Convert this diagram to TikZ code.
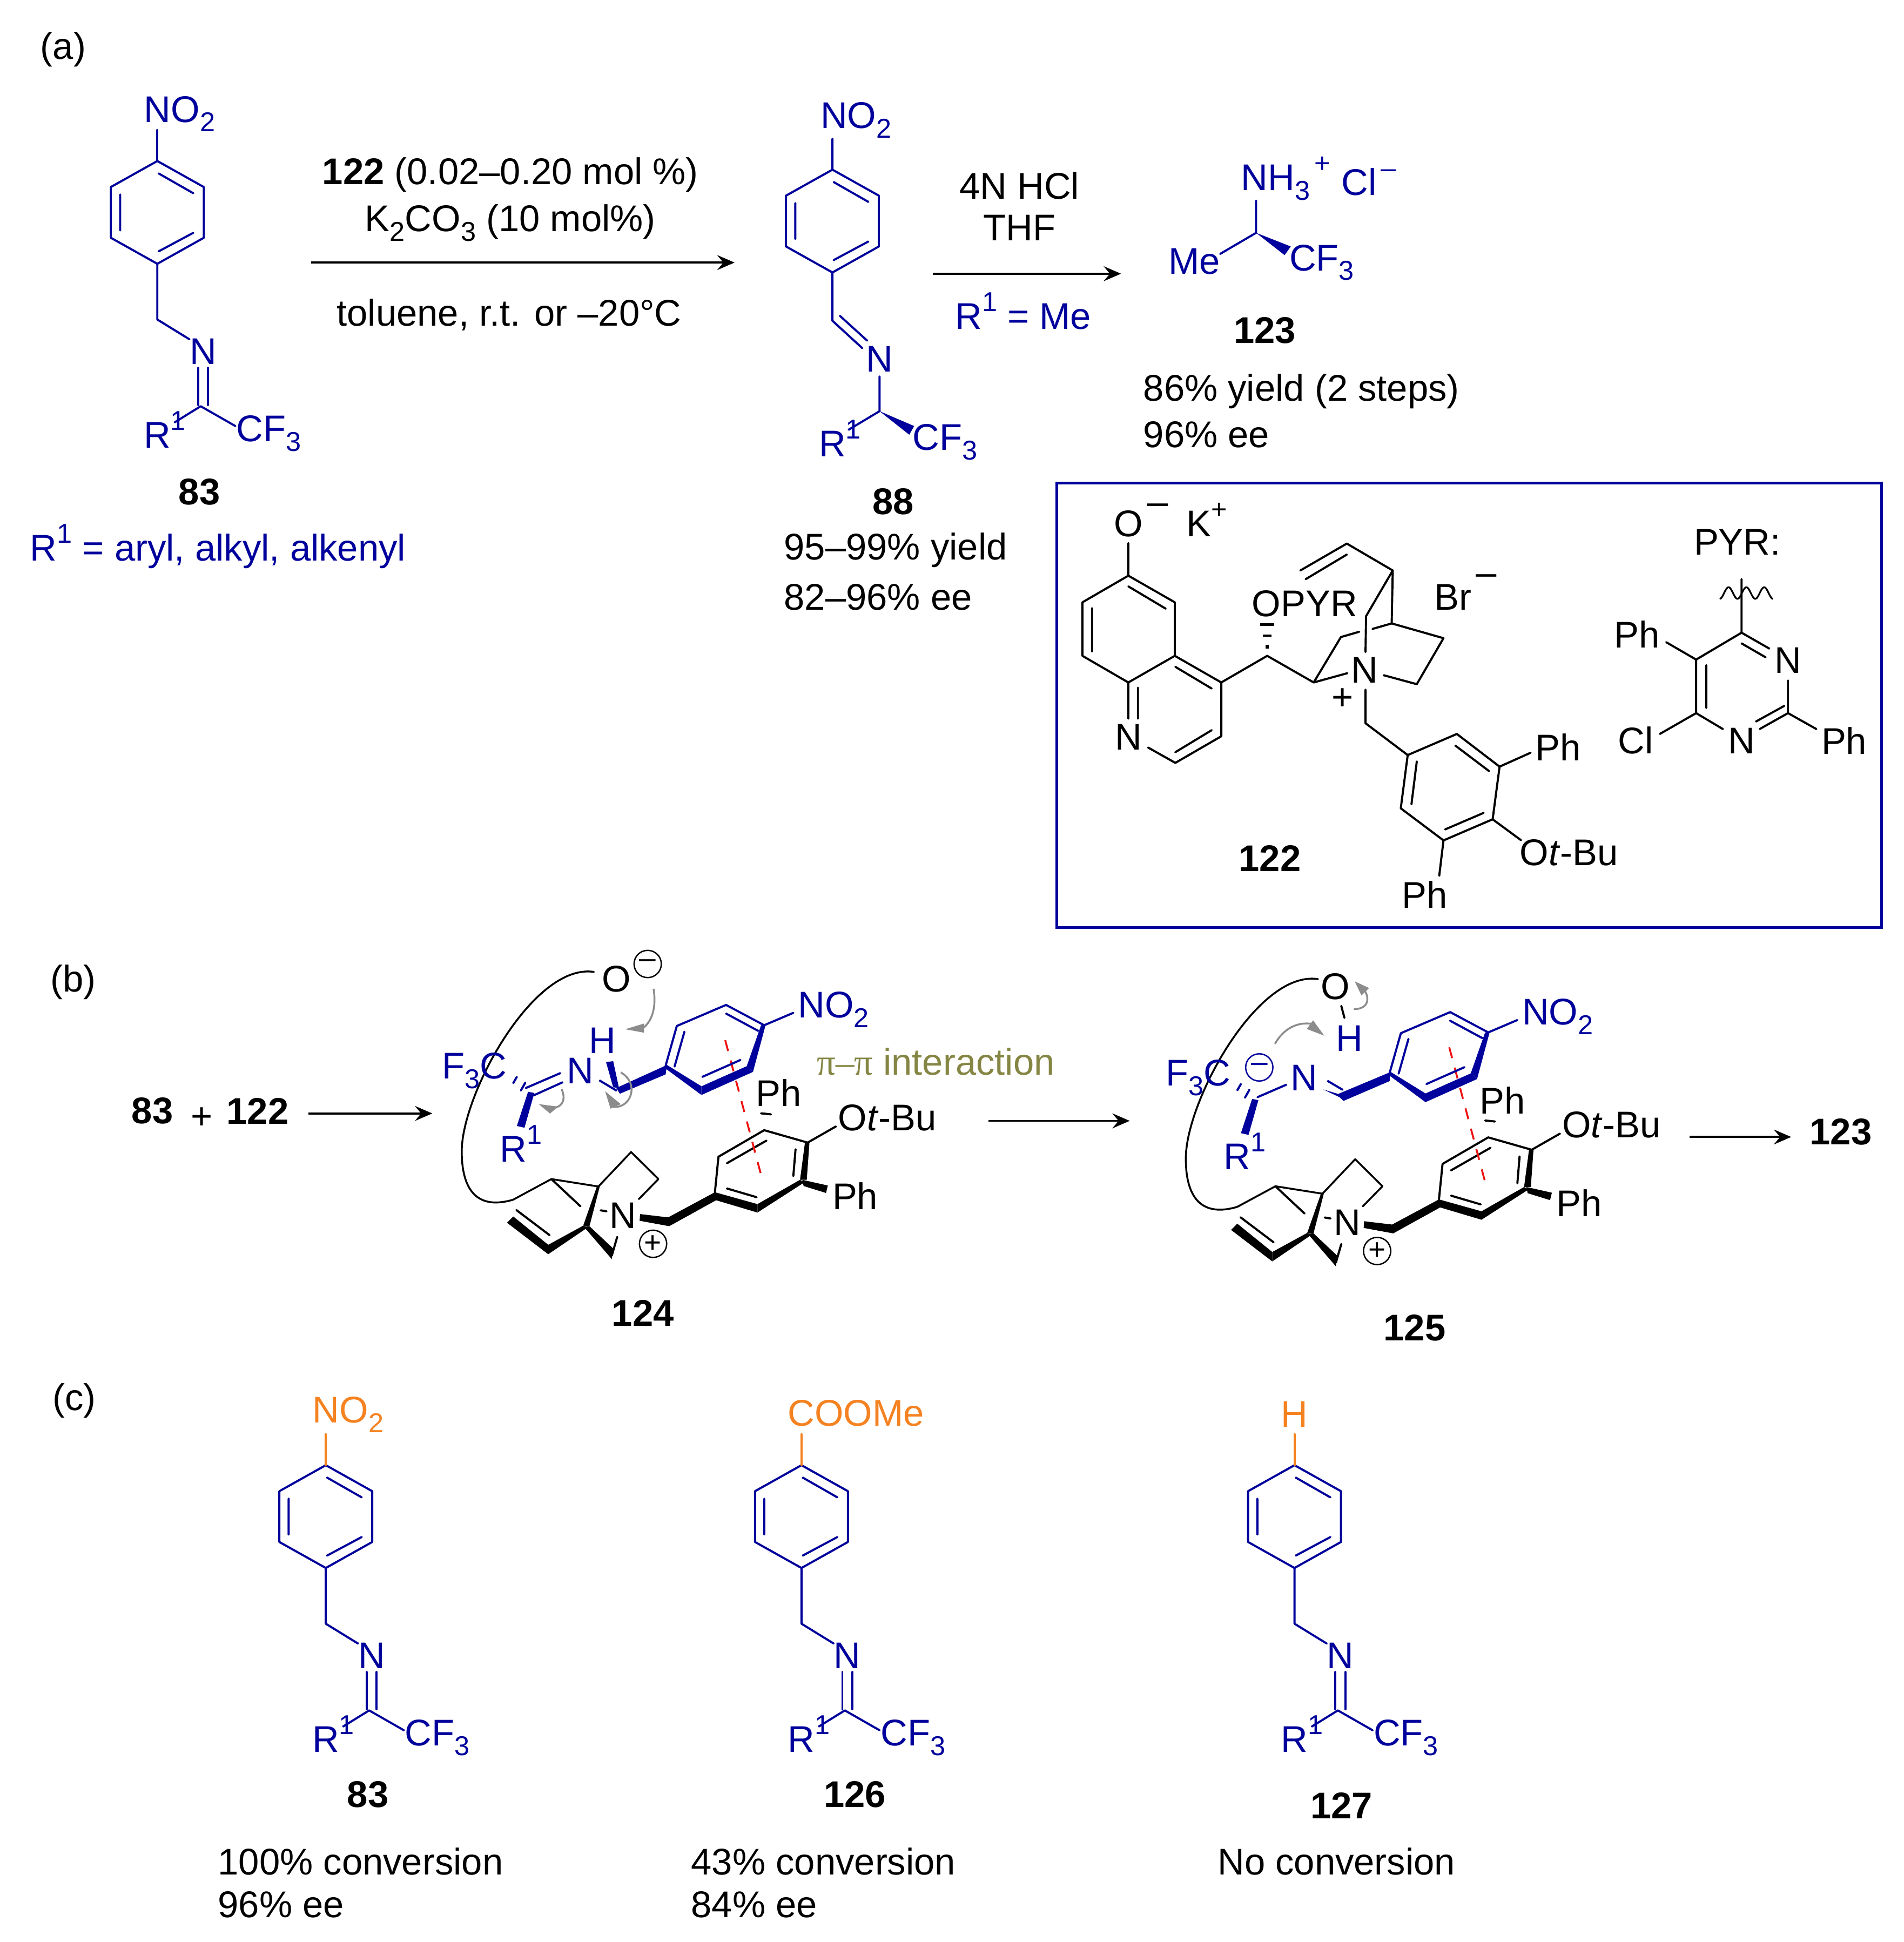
\documentclass[tikz,border=0pt]{standalone}
\usepackage{fontspec}
\setmainfont{Liberation Sans}
\newfontfamily\piFont{Liberation Serif}
\usetikzlibrary{arrows.meta,calc}
\definecolor{cblue}{HTML}{00009C}
\definecolor{corange}{HTML}{F58220}
\definecolor{colive}{HTML}{858544}
\definecolor{cgrey}{HTML}{8C8C8C}
\definecolor{cred}{HTML}{EE1111}
\newcommand\sbs[1]{\raisebox{-0.26em}{\fontsize{22}{24}\selectfont #1}}
\newcommand\sps[1]{\raisebox{0.48em}{\fontsize{22}{24}\selectfont #1}}
\tikzset{
  x=1pt,y=-1pt,
  every node/.style={font=\fontsize{30}{34}\selectfont,inner sep=0pt,outer sep=0pt},
  bond/.style={line width=1.7pt,line cap=round,line join=round},
  rxn/.style={line width=1.7pt,-{Stealth[length=14pt,width=12pt,inset=5pt]}},
  chg/.style={circle,draw,minimum size=22pt,line width=1.1pt,font=\fontsize{24}{24}\selectfont},
  tx/.style={anchor=west},
}
% blue benzyl imine; origin = top ring vertex
\newcommand\benzimine[5]{% x, y, subst colour, subst text, offset of subst
\begin{scope}[shift={(#1,#2)}]
 \draw[bond,cblue] (0,0)--(37.5,21)--(37.5,62)--(0,83)--(-37.5,62)--(-37.5,21)--cycle;
 \draw[bond,cblue] (1,10)--(29,26) (29,58)--(1,73) (-30,27)--(-30,56);
 \draw[bond,cblue] (0,83)--(0,128)--(26,144);
 \draw[bond,cblue] (33,167)--(33,197) (41,167)--(41,197);
 \draw[bond,cblue] (35,198)--(14,211) (35,198)--(63,214);
 \draw[bond,#3] (0,0)--(0,-25);
 \node[#3] (#4sub) at (#5) {\csname subst#4\endcsname};
 \node[cblue] (#4n) at (37,154) {N};
 \node[cblue] (#4r) at (6,217) {R\sps{1}};
 \node[cblue] (#4cf) at (90,220) {CF\sbs{3}};
\end{scope}}
\newcommand\substa{NO\sbs{2}}
\newcommand\substb{NO\sbs{2}}
\newcommand\substc{COOMe}
\newcommand\substd{H}
% common part of the transition-state drawing (coordinates of a stretched crop)
\newcommand\tsCore[1]{%
 \draw[bond,line width=1.5pt] (385,107) .. controls (250,70) and (90,600) .. (90,830) .. controls (90,1000) and (130,1065) .. (205,1025) -- (290,942) -- (395,972) -- (468,833) -- (529,942) -- (485,1023);
 \draw[bond] (290,942)--(355,1052) (400,1068)--(413,1072) (437,1175)--(425,1250) (212,1067)--(286,1168);
 \fill (392,970)--(398,972)--(375,1132)--(361,1130)--cycle;
 \fill (361,1130)--(372,1136)--(283,1245)--(283,1207)--cycle;
 \fill (283,1245)--(283,1207)--(205,1093)--(191,1118)--cycle;
 \fill (362,1133)--(375,1132)--(428,1222)--(425,1265)--cycle;
 \fill (488,1083)--(553,1097)--(553,1132)--(487,1110)--cycle;
 \fill (547,1100)--(655,995)--(660,1025)--(553,1132)--cycle;
 \draw[bond] (655,995)--(663,852)--(765,745)--(862,795)--(925,730);
 \draw[bond] (682,878)--(770,787) (835,822)--(830,930) (682,980)--(748,1015) (758,677)--(780,681);
 \fill (856,795)--(866,795)--(860,945)--(845,945)--cycle;
 \fill (845,945)--(855,955)--(750,1077)--(750,1043)--cycle;
 \fill (655,995)--(750,1043)--(750,1077)--(657,1027)--cycle;
 \fill (850,945)--(907,968)--(903,998)--(853,970)--cycle;
 \node (#1tbu) at (1040,695) {O\textit{t}-Bu};
 \node (#1pa) at (797,595) {Ph};
 \node (#1pb) at (968,1010) {Ph};
 \node (#1nq) at (450,1088) {N};
 \node[chg] (#1pl) at (517,1203) {+};
 \draw[cred,line width=1.5pt,dash pattern=on 9pt off 8pt] (678,382)--(757,918);
 \begin{scope}[cblue]
 \draw[bond] (545,485)--(570,325)--(680,240)--(765,322)--(830,272);
 \draw[bond] (565,488)--(587,348) (680,275)--(752,345) (627,530)--(712,462);
 \fill (758,322)--(768,322)--(740,510)--(726,487)--cycle;
 \fill (726,487)--(740,510)--(625,603)--(625,568)--cycle;
 \fill (540,490)--(548,482)--(625,568)--(625,603)--cycle;
 \fill (238,590)--(252,595)--(230,735)--(213,728)--cycle;
 \draw[bond] (205,555)--(213,530) (222,585)--(232,553);
 \node[cblue] (#1no) at (920,258) {NO\sbs{2}};
 \node[cblue] (#1f) at (118,505) {F\sbs{3}C};
 \node[cblue] (#1n) at (354,505) {N};
 \node[cblue] (#1r) at (222,800) {R\sps{1}};
 \end{scope}}
\begin{document}
\begin{tikzpicture}
\useasboundingbox (0,0) rectangle (1537,1568);
\fill[white] (0,0) rectangle (1537,1568);
% panel labels
\node (la) at (51,40) {(a)};
\node (lb) at (59,793) {(b)};
\node (lc) at (60,1131) {(c)};
% ---- panel a
\benzimine{127}{130}{cblue}{a}{18,-38}
\node (n83) at (161,397) {\textbf{83}};
\node[cblue] (rdef) at (176,441) {R\sps{1} = aryl, alkyl, alkenyl};
\coordinate (a1s) at (251,212); \coordinate (a1e) at (593,212);
\draw[rxn] (a1s)--(a1e);
\node (ra1) at (412,141) {\textbf{122} (0.02–0.20 mol \%)};
\node (ra2) at (412,180) {K\sbs{2}CO\sbs{3} (10 mol\%)};
\node (ra3) at (411,254) {toluene, r.t. or –20°C};
% 88
\begin{scope}[shift={(672,137)}]
 \draw[bond,cblue] (0,0)--(37.5,21)--(37.5,62)--(0,83)--(-37.5,62)--(-37.5,21)--cycle;
 \draw[bond,cblue] (1,10)--(29,26) (29,58)--(1,73) (-30,27)--(-30,56);
 \draw[bond,cblue] (0,0)--(0,-25) (0,83)--(0,122)--(24,144) (6,118)--(28,138);
 \draw[bond,cblue] (38,167)--(38,195)--(13,210);
 \fill[cblue] (38,195)--(66,207)--(62,214)--cycle;
 \node[cblue] (m88no) at (19,-40) {NO\sbs{2}};
 \node[cblue] (m88n) at (38,153) {N};
 \node[cblue] (m88r) at (6,217) {R\sps{1}};
 \node[cblue] (m88cf) at (91,220) {CF\sbs{3}};
\end{scope}
\node (n88) at (721,405) {\textbf{88}};
\node[tx] (y88a) at (633,444) {95–99\% yield};
\node[tx] (y88b) at (633,482) {82–96\% ee};
\coordinate (a2s) at (753,221); \coordinate (a2e) at (905,221);
\draw[rxn] (a2s)--(a2e);
\node (rb1) at (823,150) {4N HCl};
\node (rb2) at (823,184) {THF};
\node[cblue] (rb3) at (826,251) {R\sps{1} = Me};
% 123
\draw[bond,cblue] (1014,162)--(1014,188)--(985,205);
\fill[cblue] (1014,188)--(1042,199)--(1037,206)--cycle;
\node[cblue] (nh3) at (1038,144) {NH\sbs{3}\sps{\,+}};
\node[cblue] (cl) at (1105,147) {Cl\sps{\,–}};
\node[cblue] (me) at (964,211) {Me};
\node[cblue] (cf123) at (1067,212) {CF\sbs{3}};
\node (n123) at (1021,267) {\textbf{123}};
\node[tx] (y123a) at (923,316) {86\% yield (2 steps)};
\node[tx] (y123b) at (923,351) {96\% ee};
% catalyst box
\draw[cblue,line width=2pt] (853,390) rectangle (1519,749);
\begin{scope}[shift={(850.5,388.2)},xscale=0.4312,yscale=0.2336]
 \draw[bond] (140,215)--(140,328)--(227,420)--(227,605)--(140,697)--(54,605)--(54,420)--(140,328);
 \draw[bond] (140,365)--(210,442) (72,440)--(72,590);
 \draw[bond] (227,605)--(314,697)--(314,883)--(228,975)--(177,922) (140,697)--(140,822) (158,715)--(158,822);
 \draw[bond] (228,643)--(296,718) (228,938)--(296,862);
 \draw[bond] (314,697)--(400,605)--(487,697)--(538,540)--(572,522) (597,512)--(633,493)--(635,310)--(585,468)--(584,592);
 \draw[bond] (487,697)--(550,665) (633,493)--(730,544)--(680,703)--(618,672);
 \draw[bond] (635,310)--(549,217)--(462,310) (549,255)--(472,340);
 \draw[line width=3pt] (397,573)--(403,573);
 \draw[line width=2pt] (392,535)--(408,535);
 \draw[line width=2pt] (387,497)--(413,497);
 \draw[bond] (584,722)--(584,838)--(663,948)--(755,875)--(835,988)--(822,1170)--(730,1243)--(650,1132)--(663,948);
 \draw[bond] (752,915)--(815,1003) (680,970)--(670,1118) (805,1148)--(733,1205);
 \draw[bond] (835,988)--(893,940) (822,1170)--(875,1242) (730,1243)--(722,1365);
 \node (co) at (140,148) {O};
 \node (com) at (195,97) {–};
 \node (ck) at (287,135) {K\sps{+}};
 \node (cn) at (140,885) {N};
 \node (copyr) at (470,425) {OPYR};
 \node (cnq) at (582,655) {N};
 \node (cbr) at (748,403) {Br};
 \node (cbrm) at (810,343) {–};
 \node (cplus) at (541,755) {+};
 \node (cpa) at (945,920) {Ph};
 \node (ctbu) at (965,1285) {O\textit{t}-Bu};
 \node (cpb) at (695,1430) {Ph};
 \node (n122) at (405,1305) {\textbf{122}};
 % PYR
 \node (pyr) at (1280,212) {PYR:};
 \draw[bond] (1288,340)--(1288,525)--(1340,580) (1288,562)--(1333,610) (1375,690)--(1375,803)--(1322,858) (1368,778)--(1315,832);
 \draw[bond] (1253,858)--(1203,803)--(1203,618)--(1288,525) (1222,785)--(1222,637);
 \draw[bond] (1203,803)--(1135,875) (1375,803)--(1428,858) (1203,618)--(1147,558);
 \draw[line width=1.4pt,domain=0:100,samples=90,smooth] plot ({1247+\x},{388+20*cos(\x*10.8)});
 \node (pn1) at (1375,620) {N};
 \node (pn2) at (1288,898) {N};
 \node (pcl) at (1090,898) {Cl};
 \node (pph1) at (1480,898) {Ph};
 \node (pph2) at (1092,530) {Ph};
\end{scope}
% ---- panel b
\node (b83) at (123,897) {\textbf{83}};
\node (bplus) at (163,903) {+};
\node (b122) at (208,897) {\textbf{122}};
\coordinate (b1s) at (249,899); \coordinate (b1e) at (349,899);
\draw[rxn] (b1s)--(b1e);
\begin{scope}[shift={(340.2,763.3)},xscale=0.3617,yscale=0.2003]
 \tsCore{ta}
 \node (tao) at (435,135) {O};
 \node[chg] (tam) at (505,75) {–};
 \begin{scope}[cblue]
 \node[cblue] (tah) at (404,383) {H};
 \draw[bond] (233,575)--(310,515) (250,605)--(315,552) (398,545)--(435,585);
 \fill (412,470)--(428,467)--(441,575)--(428,572)--cycle;
 \fill (548,482)--(545,520)--(443,598)--(435,575)--cycle;
 \end{scope}
 \begin{scope}[cgrey]
 \draw[line width=1.5pt] (518,175) .. controls (525,250) and (515,310) .. (490,340);
 \fill (455,338)--(497,315)--(497,352)--cycle;
 \draw[line width=1.5pt] (313,580) .. controls (325,630) and (310,660) .. (285,655);
 \fill (262,640)--(305,650)--(287,678)--cycle;
 \draw[line width=1.5pt] (445,512) .. controls (490,560) and (465,665) .. (425,650);
 \fill (410,588)--(445,640)--(422,658)--cycle;
 \end{scope}
 \node[colive] (pipi) at (1148,468) {{\piFont π–π} interaction};
\end{scope}
\node (n124) at (519,1060) {\textbf{124}};
\coordinate (b2s) at (798,905); \coordinate (b2e) at (912,905);
\draw[rxn] (b2s)--(b2e);
\begin{scope}[shift={(924.7,769.1)},xscale=0.3617,yscale=0.2003]
 \tsCore{tb}
 \node (tbo) at (424,137) {O};
 \draw[bond,line width=1.7pt] (437,215)--(444,263);
 \begin{scope}[cblue]
 \node[cblue] (tbh) at (455,345) {H};
 \node[chg,cblue] (tbm) at (254,463) {–};
 \draw[bond] (250,583)--(314,533) (407,518)--(440,553);
 \fill (397,552)--(433,583)--(442,598)--(545,518)--(545,483)--(430,570)--cycle;
 \end{scope}
 \begin{scope}[cgrey]
 \draw[line width=1.5pt] (465,228) .. controls (500,228) and (500,180) .. (488,150);
 \fill (467,116)--(499,143)--(482,173)--cycle;
 \draw[line width=1.5pt] (289,368) .. controls (310,300) and (345,275) .. (378,290);
 \fill (374,273)--(399,335)--(360,308)--cycle;
 \end{scope}
\end{scope}
\coordinate (b3s) at (1364,918); \coordinate (b3e) at (1446,918);
\draw[rxn] (b3s)--(b3e);
\node (b123) at (1486,914) {\textbf{123}};
\node (n125) at (1142,1072) {\textbf{125}};
% ---- panel c
\benzimine{263}{1183}{corange}{b}{18,-41}
\benzimine{647}{1183}{corange}{c}{44,-42}
\benzimine{1045}{1183}{corange}{d}{0,-41}
\node (c83) at (297,1449) {\textbf{83}};
\node (c126) at (690,1449) {\textbf{126}};
\node (c127) at (1083,1458) {\textbf{127}};
\node[tx] (t1a) at (176,1503) {100\% conversion};
\node[tx] (t1b) at (176,1538) {96\% ee};
\node[tx] (t2a) at (558,1503) {43\% conversion};
\node[tx] (t2b) at (558,1538) {84\% ee};
\node[tx] (t3a) at (983,1503) {No conversion};
\end{tikzpicture}
\end{document}
